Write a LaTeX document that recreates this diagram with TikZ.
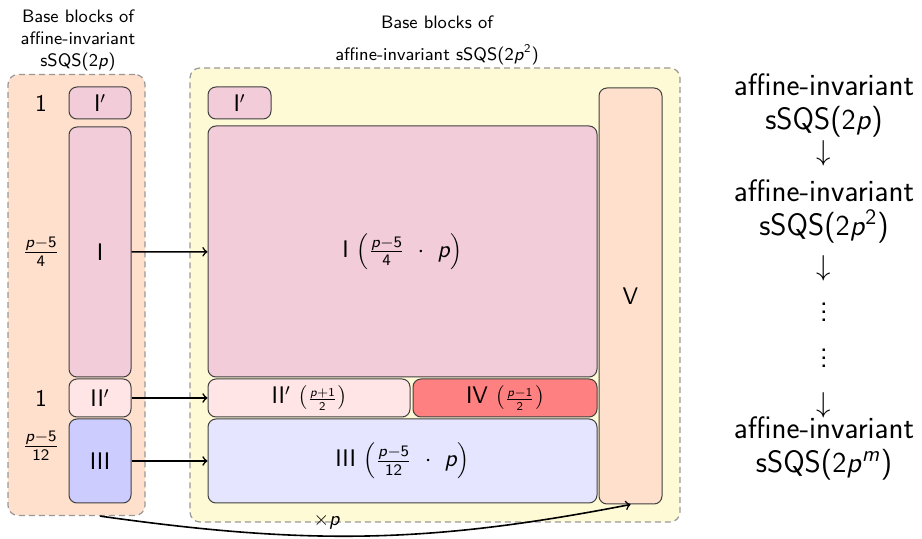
\documentclass[tikz,border=0pt]{standalone}
\renewcommand{\familydefault}{\sfdefault}
% sans serif letters and digits in math
\DeclareSymbolFont{sfletters}{OT1}{cmss}{m}{sl}
\DeclareSymbolFont{sfdigits}{OT1}{cmss}{m}{n}
\DeclareMathSymbol{p}{\mathalpha}{sfletters}{`p}
\DeclareMathSymbol{m}{\mathalpha}{sfletters}{`m}
\DeclareMathSymbol{1}{\mathalpha}{sfdigits}{`1}
\DeclareMathSymbol{2}{\mathalpha}{sfdigits}{`2}
\DeclareMathSymbol{4}{\mathalpha}{sfdigits}{`4}
\DeclareMathSymbol{5}{\mathalpha}{sfdigits}{`5}
\definecolor{peach}{RGB}{255,224,204}
\definecolor{paleyellow}{RGB}{255,250,214}
\usetikzlibrary{positioning}

\begin{document}
\begin{tikzpicture}[
    x=0.5pt, y=0.5pt,
    frame/.style={draw=gray!80, dash pattern=on 3pt off 2pt, rounded corners=5pt, line width=0.6pt, inner sep=0pt},
    blk/.style={draw=black!75, rounded corners=4pt, align=center, font=\large, inner sep=0pt, line width=0.5pt},
    title/.style={font=\small, align=center},
    count/.style={font=\large},
    arrow/.style={->, thick},
    side/.style={font=\fontsize{15.5}{17}\selectfont, align=center, inner sep=1pt}
]
\useasboundingbox (0,0) rectangle (922,-539);

% Dashed frames
\node[frame, fill=peach, minimum width=68.5pt, minimum height=220.5pt] (base) at (76.5,-295) {};
\node[frame, fill=paleyellow, minimum width=245pt, minimum height=227pt] (ext) at (435,-295) {};

% Titles
\node[title] (tbase) at (78,-40) {Base blocks of\\affine-invariant\\sSQS($2p$)};
\node[title, text depth=0pt] (text1) at (437,-22) {Base blocks of};
\node[title] (text2) at (437,-55) {affine-invariant sSQS($2p^2$)};

% Blocks of sSQS(2p)
\node[blk, fill=purple!20, minimum width=31pt, minimum height=16pt] (sIp) at (100,-103) {I$'$};
\node[blk, fill=purple!20, minimum width=31pt, minimum height=125pt] (sI) at (100,-252) {I};
\node[blk, fill=red!10, minimum width=31pt, minimum height=19pt] (sIIp) at (100,-398) {II$'$};
\node[blk, fill=blue!20, minimum width=31pt, minimum height=42pt] (sIII) at (100,-461) {III};

% Counts
\node[count] (cIp) at (41,-103) {1};
\node[count] (cI) at (41,-252) {$\frac{p-5}{4}$};
\node[count] (cIIp) at (41,-398) {1};
\node[count] (cIII) at (41,-446) {$\frac{p-5}{12}$};

% Blocks of sSQS(2p^2)
\node[blk, fill=purple!20, minimum width=31.5pt, minimum height=16pt] (eIp) at (239.5,-103) {I$'$};
\node[blk, fill=purple!20, minimum width=194.5pt, minimum height=125.5pt] (eI) at (402.5,-251.5) {I $\left(\frac{p-5}{4}\ \cdot\ p\right)$};
\node[blk, fill=red!10, minimum width=101pt, minimum height=19pt] (eIIp) at (309,-398) {II$'$ $({\scriptstyle\frac{p+1}{2}})$};
\node[blk, fill=red!50, minimum width=92pt, minimum height=19pt] (eIV) at (505,-398) {IV $({\scriptstyle\frac{p-1}{2}})$};
\node[blk, fill=blue!10, minimum width=194.5pt, minimum height=42pt] (eIII) at (402.5,-461) {III $\left(\frac{p-5}{12}\ \cdot\ p\right)$};
\node[blk, fill=peach, minimum width=31.5pt, minimum height=208pt] (eV) at (630.5,-296) {V};

% Arrows between the two sets of blocks
\draw[arrow] (sI) -- (eI);
\draw[arrow] (sIIp) -- (eIIp);
\draw[arrow] (sIII) -- (eIII);
\coordinate (start) at (sIII |- base.south);
\draw[arrow] (start) to[out=-8, in=191] (eV.south);
\node (times) at (327,-522) {$\times p$};

% Chain of constructions
\node[side] (r1) at (824,-105) {affine-invariant\\sSQS($2p$)};
\node[side] (d1) at (824,-153) {$\downarrow$};
\node[side] (r2) at (824,-211) {affine-invariant\\sSQS($2p^2$)};
\node[side] (d2) at (824,-268) {$\downarrow$};
\node[side, inner sep=0pt] (v1) at (824,-306) {$\vdots$};
\node[side, inner sep=0pt] (v2) at (824,-352) {$\vdots$};
\node[side] (d3) at (824,-405) {$\downarrow$};
\node[side] (r3) at (824,-448) {affine-invariant\\sSQS($2p^m$)};
\end{tikzpicture}
\end{document}
